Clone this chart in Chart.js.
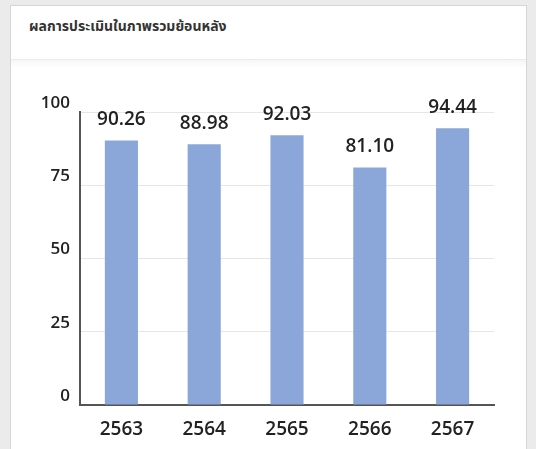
<!DOCTYPE html>
<html>
<head>
<meta charset="utf-8">
<script src="https://cdn.jsdelivr.net/npm/chart.js@4/dist/chart.umd.min.js"></script>
<style>
  html, body { margin: 0; padding: 0; width: 536px; height: 449px; overflow: hidden; background: #ebebeb; }
  #card { position: absolute; left: 10px; top: 5px; width: 517px; height: 460px; background: #fff; border: 1px solid #d6d6d6; box-sizing: border-box; }
  #head { position: absolute; left: 0; top: 0; width: 100%; height: 53px; border-bottom: 1px solid #ececec; background: #fff; }
  #shade { position: absolute; left: 0; top: 54px; width: 100%; height: 8px; background: linear-gradient(#f6f6f6, #fff); }
  #title { position: absolute; left: 18px; top: 10px; font-family: "Noto Sans Thai", "Noto Sans", "DejaVu Sans", sans-serif; font-size: 14px; font-weight: bold; color: #333; }
  #c { position: absolute; left: 0; top: 0; }
</style>
</head>
<body>
<div id="card"><div id="head"><div id="title">ผลการประเมินในภาพรวมย้อนหลัง</div></div><div id="shade"></div></div>
<canvas id="c" width="536" height="449"></canvas>
<script>
const categories = ["2563", "2564", "2565", "2566", "2567"];
const scores = [90.26, 88.98, 92.03, 81.10, 94.44];
const scoreLabels = ["90.26", "88.98", "92.03", "81.10", "94.44"];
const yTicks = [0, 25, 50, 75, 100];

const FONT = "'Open Sans', 'Noto Sans', sans-serif";

const valueLabels = {
  id: 'valueLabels',
  afterDatasetsDraw(chart) {
    const ctx = chart.ctx;
    const meta = chart.getDatasetMeta(0);
    ctx.save();
    ctx.font = "600 19px " + FONT;
    ctx.fillStyle = "#222";
    ctx.textAlign = "center";
    ctx.textBaseline = "middle";
    meta.data.forEach((bar, i) => {
      ctx.fillText(scoreLabels[i], bar.x, bar.y - 21);
    });
    ctx.restore();
  }
};

new Chart(document.getElementById('c'), {
  type: 'bar',
  data: {
    labels: categories,
    datasets: [{
      data: scores,
      backgroundColor: '#8ba7d9',
      borderWidth: 0,
      barPercentage: 0.4,
      categoryPercentage: 1.0
    }]
  },
  options: {
    responsive: false,
    animation: false,
    layout: { padding: { left: 30, top: 112, right: 42, bottom: 0 } },
    plugins: { legend: { display: false }, tooltip: { enabled: false } },
    scales: {
      x: {
        grid: { display: false, drawTicks: false },
        border: { display: true, color: '#555', width: 2 },
        ticks: { color: '#222', font: { family: FONT, size: 19, weight: '600' }, padding: 13 },
        afterFit(scale) { scale.height = 44; }
      },
      y: {
        min: 0, max: 100,
        afterBuildTicks(scale) { scale.ticks = yTicks.map(v => ({ value: v })); },
        grid: { color: '#e8e5e2', lineWidth: 1, drawTicks: false },
        border: { display: true, color: '#555', width: 2 },
        ticks: { color: '#222', font: { family: FONT, size: 17, weight: '600' }, padding: 10, labelOffset: -9 },
        afterFit(scale) { scale.width = 50; }
      }
    }
  },
  plugins: [valueLabels]
});
</script>
</body>
</html>
